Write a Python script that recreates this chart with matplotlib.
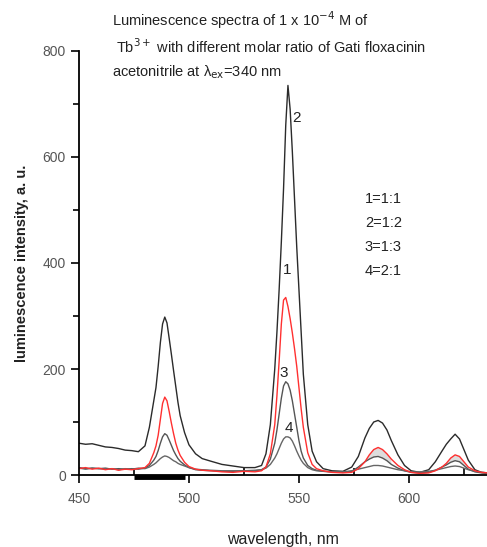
import matplotlib
matplotlib.use("Agg")
import matplotlib.pyplot as plt
from matplotlib.ticker import MultipleLocator
import matplotlib.transforms as mtransforms

plt.rcParams['font.family'] = ['Liberation Sans', 'DejaVu Sans']

# wavelength grid (nm), shared by all four spectra
wl = [450, 453, 456, 459, 462, 465, 468, 471, 474, 477, 480,
      482, 484,
      485, 486, 487, 488, 489, 490, 491, 492, 493, 494, 495, 496,
      498, 500, 503, 506, 510, 515, 520, 525, 530,
      533, 535, 537, 539,
      540, 541, 542, 543, 544, 545, 546, 547, 548, 549, 550, 551, 552,
      554, 556, 558, 561, 565, 570, 574, 577, 580,
      582, 584, 586, 588, 590, 592,
      595, 598, 601, 605, 609, 612, 615, 617, 619, 621, 623, 625, 627, 630, 633, 636]

# 1 = 1:1 (red)
c1 = [12, 14, 11, 13, 10, 12, 9, 11, 10, 12, 14,
      22, 42,
      55, 75, 105, 135, 147, 140, 120, 98, 78, 60, 47, 37,
      24, 16, 11, 9, 8, 6, 5, 7, 6,
      8, 15, 40, 95,
      150, 215, 285, 330, 335, 318, 295, 268, 238, 205, 165, 125, 90,
      42, 20, 12, 8, 5, 4, 5, 12, 25,
      38, 48, 52, 48, 40, 30,
      18, 10, 5, 3, 4, 8, 15, 22, 32, 38, 35, 25, 15, 8, 5, 4]

# 2 = 1:2
c2 = [60, 58, 59, 56, 53, 52, 50, 47, 46, 44, 55,
      90, 140,
      165, 205, 250, 285, 298, 287, 258, 228, 197, 167, 137, 112,
      80, 57, 40, 31, 26, 20, 17, 14, 14,
      18, 40, 95, 200,
      270, 350, 440, 540, 660, 735, 690, 610, 520, 430, 350, 270, 190,
      95, 45, 25, 12, 8, 7, 15, 35, 70,
      88, 100, 103, 98, 85, 65,
      38, 18, 8, 5, 10, 25, 45, 58, 68, 77, 68, 48, 28, 10, 5, 4]

# 3 = 1:3
c3 = [14, 12, 13, 12, 13, 11, 12, 11, 12, 11, 13,
      18, 28,
      35, 46, 60, 72, 78, 75, 66, 56, 46, 38, 31, 26,
      19, 14, 10, 9, 8, 7, 7, 8, 8,
      10, 15, 30, 60,
      85, 115, 145, 168, 176, 172, 160, 140, 115, 90, 65, 45, 32,
      18, 12, 9, 7, 6, 5, 7, 15, 25,
      30, 34, 35, 32, 27, 20,
      13, 8, 5, 4, 5, 9, 15, 19, 24, 27, 25, 18, 11, 6, 4, 3]

# 4 = 2:1
c4 = [13, 11, 13, 12, 11, 12, 10, 12, 11, 13, 12,
      15, 20,
      23, 27, 31, 34, 36, 35, 33, 30, 27, 25, 22, 20,
      17, 14, 11, 10, 9, 8, 8, 8, 9,
      10, 13, 20, 32,
      40, 50, 60, 68, 72, 72, 70, 64, 55, 45, 36, 28, 22,
      14, 10, 8, 7, 6, 6, 8, 11, 14,
      16, 18, 18, 17, 15, 13,
      10, 8, 6, 6, 7, 9, 12, 14, 16, 17, 16, 13, 10, 7, 5, 4]

curve_labels = ["1", "2", "3", "4"]
label_pos = [(544.5, 387), (549.1, 673), (543.2, 192), (545.5, 89)]
legend_lines = ["1=1:1", "2=1:2", "3=1:3", "4=2:1"]
bar_span = (475, 498)

fig = plt.figure(figsize=(4.87, 5.47), dpi=100)
ax = fig.add_axes([0.1622, 0.1316, 0.8378, 0.7752])

ax.plot(wl, c2, color='#2b2b2b', lw=1.0)
ax.plot(wl, c3, color='#555555', lw=1.0)
ax.plot(wl, c4, color='#666666', lw=1.0)
ax.plot(wl, c1, color='#ff3030', lw=1.0)

# light grey shading between curves 1 and 3 under the small bands
sel = [(w >= 578 and w <= 594) or (w >= 615 and w <= 628) for w in wl]
ax.fill_between(wl, c3, c1, where=sel, color='#dddddd', lw=0, zorder=0)

for lab, (x, y) in zip(curve_labels, label_pos):
    ax.text(x, y, lab, fontsize=11, ha='center', va='center', color='#222222')

for i, line in enumerate(legend_lines):
    ax.text(580, 521 - i * 45.5, line, fontsize=10.5, ha='left', va='center',
            color='#222222')

ax.set_xlim(450, 635.5)
ax.set_ylim(0, 800)

ax.spines['top'].set_visible(False)
ax.spines['right'].set_visible(False)
ax.spines['left'].set_linewidth(1.3)
ax.spines['bottom'].set_linewidth(1.3)

ax.xaxis.set_major_locator(MultipleLocator(50))
ax.xaxis.set_minor_locator(MultipleLocator(25))
ax.yaxis.set_major_locator(MultipleLocator(200))
ax.yaxis.set_minor_locator(MultipleLocator(100))
ax.tick_params(axis='x', which='major', direction='out', length=6, width=1.2,
               labelsize=10, labelcolor='#555555', pad=6)
ax.tick_params(axis='x', which='minor', direction='in', length=5, width=1.2)
ax.tick_params(axis='y', which='major', direction='out', length=6, width=1.2,
               labelsize=10, labelcolor='#555555')
ax.tick_params(axis='y', which='minor', direction='out', length=4, width=1.2)

# thick black bar on the x axis
trans = mtransforms.blended_transform_factory(ax.transData, ax.transAxes)
ax.plot(bar_span, [-0.004, -0.004], color='black', lw=3.5, transform=trans,
        clip_on=False, solid_capstyle='butt')

ax.set_xlabel("wavelength, nm", fontsize=11.5, labelpad=19, color='#222222')
ax.set_ylabel("luminescence intensity, a. u.", fontsize=10.5, fontweight='bold',
              labelpad=10, color='#222222')

fig.text(0.23, 0.963, r"Luminescence spectra of 1 x 10$^{-4}$ M of",
         fontsize=10.5, ha='left', va='center', color='#222222')
fig.text(0.23, 0.914, r" Tb$^{3+}$ with different molar ratio of Gati floxacinin",
         fontsize=10.5, ha='left', va='center', color='#222222')
fig.text(0.23, 0.868, r"acetonitrile at λ$_{\mathrm{ex}}$=340 nm",
         fontsize=10.5, ha='left', va='center', color='#222222')

fig.savefig("out.png", dpi=100)
